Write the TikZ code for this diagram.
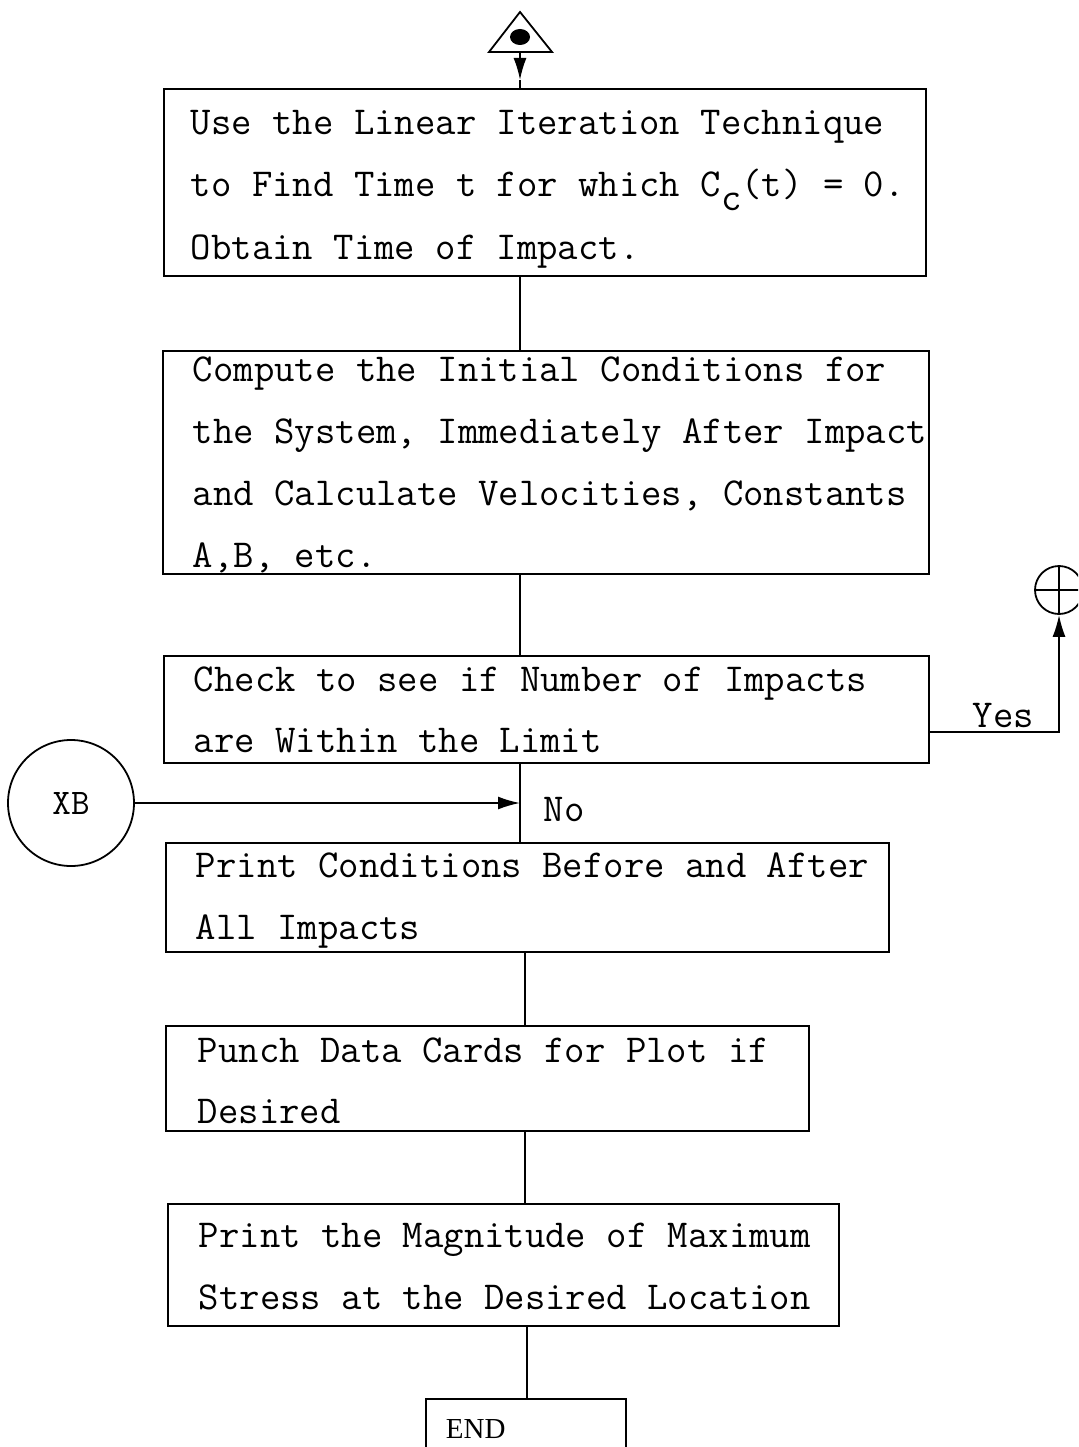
\documentclass[tikz,border=0pt]{standalone}
\usepackage{fontspec}
\setmainfont{Liberation Serif}
\usetikzlibrary{arrows.meta,calc}
\begin{document}
\begin{tikzpicture}[x=1pt,y=-1pt, line width=1.8pt,
  box/.style={draw, rectangle, inner sep=0pt, anchor=north west},
  txt/.style={anchor=base west, inner sep=0pt, font=\ttfamily\fontsize{39.6}{44}\selectfont},
  arr/.style={-{Latex[length=22pt,width=13pt]}}]
\fill[white] (0,0) rectangle (1078,1447);
\useasboundingbox (0,0) rectangle (1078,1447);
\clip (0,0) rectangle (1078,1447);

% start connector (triangle with dot)
\coordinate (tbase) at (520,52);
\draw[line join=miter] (520,12) -- (489,52) -- (552,52) -- cycle;
\fill (520,37) ellipse (10 and 8);
\coordinate (tmid) at (520,80);

% boxes
\node[box, minimum width=762pt, minimum height=187pt] (b1) at (163,88) {};
\node[box, minimum width=766pt, minimum height=223pt] (b2) at (162,350) {};
\node[box, minimum width=765pt, minimum height=107pt] (b3) at (163,655) {};
\node[box, minimum width=723pt, minimum height=109pt] (b4) at (165,842) {};
\node[box, minimum width=643pt, minimum height=105pt] (b5) at (165,1025) {};
\node[box, minimum width=671pt, minimum height=122pt] (b6) at (167,1203) {};
\node[box, minimum width=200pt, minimum height=80pt] (b7) at (425,1398) {};

% texts
\node[txt] (t1a) at (190,135) {Use the Linear Iteration Technique};
\node[txt] (t1b) at (190,197) {to Find Time t for which C\raisebox{-14pt}{c}(t) = 0.};
\node[txt] (t1c) at (190,259) {Obtain Time of Impact.};

\node[txt] (t2a) at (192,381) {Compute the Initial Conditions for};
\node[txt] (t2b) at (192,443) {the System, Immediately After Impact};
\node[txt] (t2c) at (192,505) {and Calculate Velocities, Constants};
\node[txt] (t2d) at (192,567) {A,B, etc.};

\node[txt] (t3a) at (193,691) {Check to see if Number of Impacts};
\node[txt] (t3b) at (193,752) {are Within the Limit};

\node[txt] (t4a) at (195,877) {Print Conditions Before and After};
\node[txt] (t4b) at (195,939) {All Impacts};

\node[txt] (t5a) at (197,1062) {Punch Data Cards for Plot if};
\node[txt] (t5b) at (197,1123) {Desired};

\node[txt] (t6a) at (198,1247) {Print the Magnitude of Maximum};
\node[txt] (t6b) at (198,1309) {Stress at the Desired Location};

\node[anchor=base west, inner sep=0pt, font=\rmfamily\fontsize{29}{34}\selectfont] (tend) at (445,1438) {END};

% off-page connectors
\node[draw, circle, minimum size=126pt, inner sep=0pt, font=\ttfamily\fontsize{36}{40}\selectfont] (xb) at (71,803) {XB};
\node[draw, circle, minimum size=48pt, inner sep=0pt] (plus) at (1059,590) {};
\draw (plus.north) -- (plus.south) (plus.west) -- (plus.east);

% connectors
\draw[arr] (tbase) -- (tmid);
\draw (tmid) -- (b1.north -| tbase);
\draw (b1.south -| tbase) -- (b2.north -| tbase);
\draw (b2.south -| tbase) -- (b3.north -| tbase);
\draw (b3.south -| tbase) -- (b4.north -| tbase);
\coordinate (xbt) at (520,803);
\draw[arr] (xb.east) -- (xbt);
\coordinate (c2) at (525,0);
\coordinate (c3) at (527,0);
\draw (b4.south -| c2) -- (b5.north -| c2);
\draw (b5.south -| c2) -- (b6.north -| c2);
\draw (b6.south -| c3) -- (b7.north -| c3);
\coordinate (yc) at (1059,732);
\draw[arr] (b3.east |- yc) -- (yc) -- (plus.south);

% labels
\node[txt] (yes) at (972,727) {Yes};
\node[txt] (no) at (543,821) {No};
\end{tikzpicture}
\end{document}
